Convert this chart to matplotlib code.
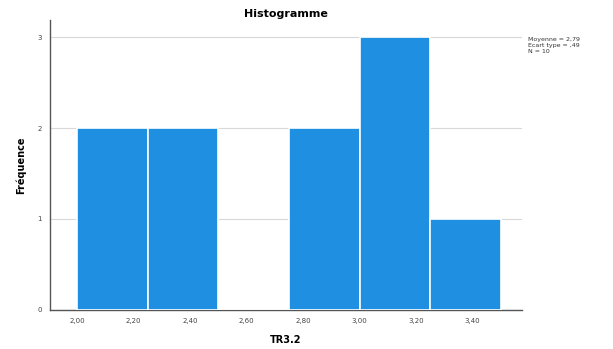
import matplotlib.pyplot as plt
import numpy as np

# %% Données lues sur l'histogramme
bin_edges = [2.00, 2.25, 2.50, 2.75, 3.00, 3.25, 3.50]
counts = [2, 2, 0, 2, 3, 1]
x_ticks = [2.00, 2.20, 2.40, 2.60, 2.80, 3.00, 3.20, 3.40]
x_labels = ["2,00", "2,20", "2,40", "2,60", "2,80", "3,00", "3,20", "3,40"]
y_ticks = [0, 1, 2, 3]
stats_lines = ["Moyenne = 2,79", "Ecart type = ,49", "N = 10"]

# %% Figure
fig = plt.figure(figsize=(6.13, 3.49), dpi=100)
ax = fig.add_axes([0.0816, 0.112, 0.77, 0.831])

widths = np.diff(bin_edges)
ax.bar(bin_edges[:-1], counts, width=widths, align="edge",
       color="#1e8fe1", edgecolor="white", linewidth=1.2, zorder=3)

ax.set_xlim(1.905, 3.575)
ax.set_ylim(0, 3.19)
ax.set_xticks(x_ticks)
ax.set_xticklabels(x_labels)
ax.set_yticks(y_ticks)
ax.tick_params(labelsize=5, length=0, pad=6, colors="#444444")

ax.grid(axis="y", color="#d9d9d9", linewidth=0.8, zorder=0)
for s in ["top", "right"]:
    ax.spines[s].set_visible(False)
for s in ["left", "bottom"]:
    ax.spines[s].set_color("#555555")
    ax.spines[s].set_linewidth(1.0)

ax.set_title("Histogramme", fontsize=8, fontweight="bold", pad=2)
ax.set_xlabel("TR3.2", fontsize=7, fontweight="bold", labelpad=8)
ax.set_ylabel("Fréquence", fontsize=7, fontweight="bold", labelpad=8)

fig.text(0.862, 0.895, "\n".join(stats_lines), fontsize=4.5, va="top",
         ha="left", color="#333333", linespacing=1.3)

fig.savefig("out.png", dpi=100)
